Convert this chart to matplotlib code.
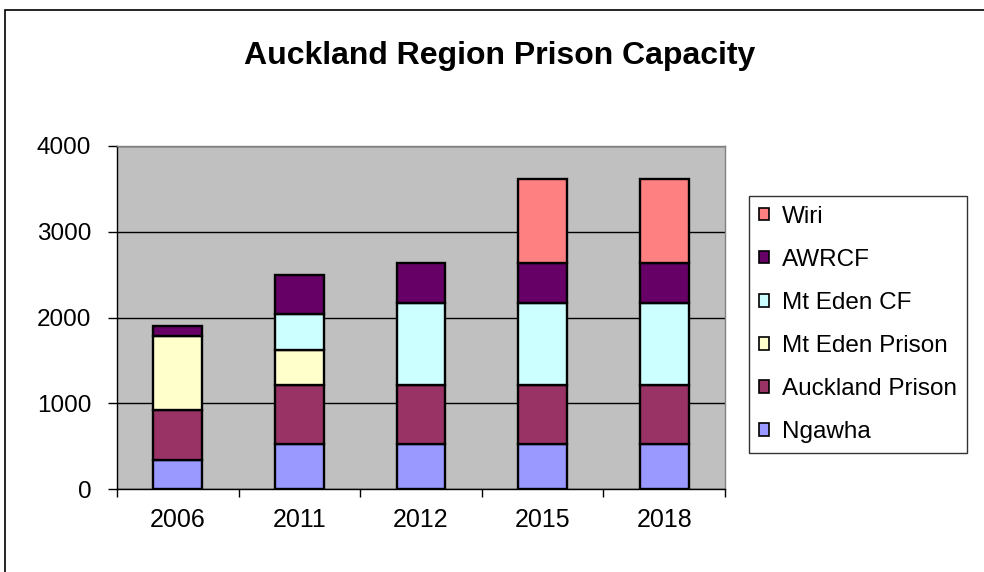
import matplotlib
matplotlib.use("Agg")
import matplotlib.pyplot as plt
from matplotlib.patches import Rectangle, Patch
import numpy as np

# data
years = ["2006", "2011", "2012", "2015", "2018"]
ngawha = [340, 530, 530, 530, 530]
auckland_prison = [585, 680, 680, 680, 680]
mt_eden_prison = [860, 415, 0, 0, 0]
mt_eden_cf = [0, 420, 955, 955, 955]
awrcf = [115, 455, 470, 470, 470]
wiri = [0, 0, 0, 980, 980]

series = [
    ("Ngawha", ngawha, "#9999FF"),
    ("Auckland Prison", auckland_prison, "#993366"),
    ("Mt Eden Prison", mt_eden_prison, "#FFFFCC"),
    ("Mt Eden CF", mt_eden_cf, "#CCFFFF"),
    ("AWRCF", awrcf, "#660066"),
    ("Wiri", wiri, "#FF8080"),
]

plt.rcParams["font.family"] = ["Liberation Sans", "DejaVu Sans"]

fig = plt.figure(figsize=(9.84, 5.72), dpi=100)
ax = fig.add_axes([117 / 984, 1 - 489 / 572, 608 / 984, 343 / 572])

x = np.arange(len(years))
bottom = np.zeros(len(years))
for name, vals, color in series:
    vals = np.array(vals, dtype=float)
    mask = vals > 0
    ax.bar(x[mask], vals[mask], bottom=bottom[mask], width=0.4,
           color=color, edgecolor="black", linewidth=1.7, zorder=3)
    bottom += vals

ax.set_facecolor("#C0C0C0")
ax.set_xlim(-0.5, len(years) - 0.5)
ax.set_ylim(0, 4000)
ax.set_yticks([0, 1000, 2000, 3000, 4000])
ax.yaxis.grid(True, color="black", linewidth=1.0, zorder=1)
ax.set_axisbelow(True)

ax.set_xticks(x)
ax.set_xticklabels(years)
ax.set_xticks(np.arange(len(years) + 1) - 0.5, minor=True)
ax.tick_params(axis="x", which="major", length=0, pad=14, labelsize=18)
ax.tick_params(axis="x", which="minor", length=6, width=1, direction="out")
ax.tick_params(axis="y", length=6.5, width=1, direction="out", labelsize=17.5, pad=12)

for side in ["top", "right"]:
    ax.spines[side].set_color("#808080")
    ax.spines[side].set_linewidth(1.0)
for side in ["left", "bottom"]:
    ax.spines[side].set_color("black")
    ax.spines[side].set_linewidth(1.0)

fig.text(500 / 984, 1 - 56 / 572, "Auckland Region Prison Capacity",
         ha="center", va="center", fontsize=23, fontweight="bold")

handles = [Patch(facecolor=c, edgecolor="black", linewidth=1.2, label=n)
           for n, _, c in reversed(series)]
leg = fig.legend(handles=handles, loc="upper left",
                 bbox_to_anchor=(749 / 984, 1 - 196 / 572),
                 fontsize=17.5, frameon=True, fancybox=False,
                 edgecolor="black", handlelength=0.42, handleheight=0.42,
                 handletextpad=0.55, labelspacing=0.87, borderpad=0.4,
                 borderaxespad=0)
leg.get_frame().set_linewidth(1.0)

fig.patches.append(Rectangle((5 / 984, -0.1), 1.2, 1 - 10 / 572 + 0.1,
                             transform=fig.transFigure, fill=False,
                             edgecolor="black", linewidth=1.2))

fig.savefig("out.png", dpi=100)
